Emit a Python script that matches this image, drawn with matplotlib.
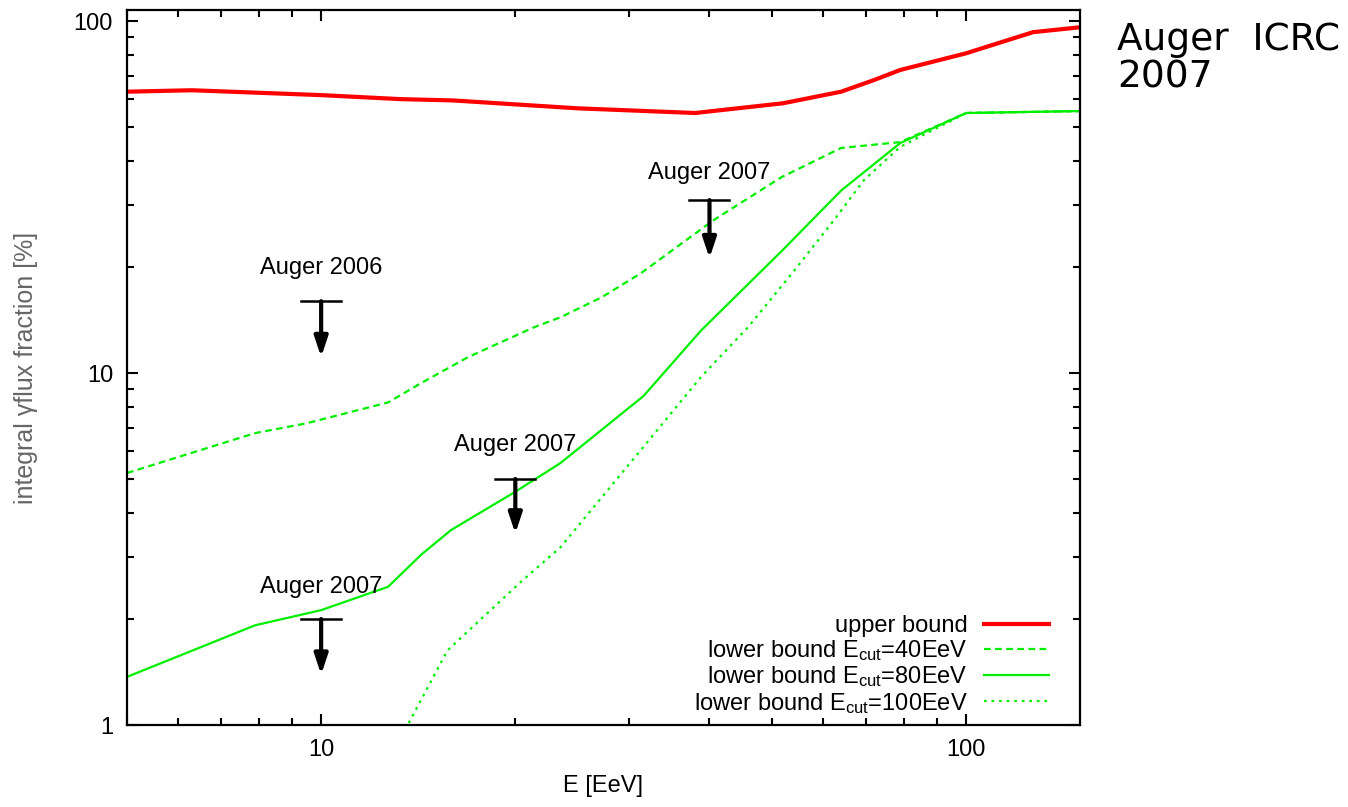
import matplotlib
matplotlib.use("Agg")
import matplotlib.pyplot as plt
from matplotlib.ticker import FixedLocator, NullFormatter, FixedFormatter

plt.rcParams['font.family'] = ['Liberation Sans', 'DejaVu Sans']
plt.rcParams['mathtext.fontset'] = 'custom'
plt.rcParams['mathtext.rm'] = 'Liberation Sans'
plt.rcParams['mathtext.it'] = 'Liberation Sans'

# upper bound (red)
e_upper = [5, 6.3, 10, 13.3, 16, 25, 38, 52, 64, 72, 79, 100, 127, 150]
f_upper = [63, 63.6, 61.6, 60, 59.5, 56.5, 54.8, 58.4, 63, 68, 72.6, 81, 93, 96]

# lower bound, E_cut = 40 EeV
e_40 = [5, 7.9, 9.5, 12.7, 14.3, 16.9, 21.4, 23.5, 27.2, 31.3, 40.6, 51.7, 64, 79, 100, 150]
f_40 = [5.2, 6.75, 7.2, 8.25, 9.37, 11.1, 13.5, 14.4, 16.4, 19.2, 27.2, 36, 43.6, 45.3, 54.8, 55.5]

# lower bound, E_cut = 80 EeV
e_80 = [5, 7.9, 10, 12.7, 14.3, 15.9, 20, 23.5, 31.6, 38.8, 52, 64, 79, 100, 150]
f_80 = [1.37, 1.92, 2.12, 2.47, 3.05, 3.58, 4.6, 5.55, 8.6, 13.2, 22.4, 33, 45, 54.8, 55.5]

# lower bound, E_cut = 100 EeV
e_100 = [13.5, 15.7, 20.4, 23.5, 31.3, 38.8, 45.9, 54.2, 62.4, 69.4, 79, 100, 150]
f_100 = [0.97, 1.63, 2.55, 3.2, 6.04, 9.74, 13.5, 19.6, 27.2, 35.3, 43.9, 54.8, 55.5]

# Auger upper limits
lim_e = [10, 10, 20, 40]
lim_f = [16, 2, 5, 31]
lim_tip = [11.1, 1.39, 3.5, 21.2]
lim_text = ["Auger 2006", "Auger 2007", "Auger 2007", "Auger 2007"]
lim_text_y = [19.9, 2.47, 6.24, 37]

fig = plt.figure(figsize=(13.48, 8.07), dpi=100)
ax = fig.add_axes([0.0942, 0.1016, 0.7068, 0.886])

green = '#00ee00'
ax.plot(e_upper, f_upper, color='#ff0000', lw=3.0, label='upper bound')
ax.plot(e_40, f_40, color=green, lw=1.6, dashes=(3, 2), label=r'lower bound E$_{\rm cut}$=40EeV')
ax.plot(e_80, f_80, color=green, lw=1.6, label=r'lower bound E$_{\rm cut}$=80EeV')
ax.plot(e_100, f_100, color=green, lw=1.6, dashes=(1.2, 2.2), label=r'lower bound E$_{\rm cut}$=100EeV')

for e, f, tip, txt, ty in zip(lim_e, lim_f, lim_tip, lim_text, lim_text_y):
    ax.plot([e / 1.074, e * 1.074], [f, f], color='k', lw=1.8)
    ax.annotate('', xy=(e, tip), xytext=(e, f),
                arrowprops=dict(arrowstyle='-|>,head_length=0.6,head_width=0.2', color='k',
                                lw=3, mutation_scale=20, shrinkA=0, shrinkB=0))
    ax.text(e, ty, txt, ha='center', va='center', fontsize=17)

ax.set_xscale('log')
ax.set_yscale('log')
ax.set_xlim(5, 150)
ax.set_ylim(1, 107.5)

ax.xaxis.set_major_locator(FixedLocator([10, 100]))
ax.xaxis.set_major_formatter(FixedFormatter(['10', '100']))
ax.xaxis.set_minor_locator(FixedLocator([5, 6, 7, 8, 9, 20, 30, 40, 50, 60, 70, 80, 90]))
ax.xaxis.set_minor_formatter(NullFormatter())
ax.yaxis.set_major_locator(FixedLocator([1, 10, 100]))
ax.yaxis.set_major_formatter(FixedFormatter(['1', '10', '100']))
ax.yaxis.set_minor_locator(FixedLocator([2, 3, 4, 5, 6, 7, 8, 9, 20, 30, 40, 50, 60, 70, 80, 90]))
ax.yaxis.set_minor_formatter(NullFormatter())

ax.tick_params(which='both', direction='in', top=True, right=True, width=1.5, labelsize=17)
ax.tick_params(which='major', length=8, pad=10)
ax.tick_params(which='minor', length=5)
for s in ax.spines.values():
    s.set_linewidth(1.6)

ax.set_xlabel('E [EeV]', fontsize=17, labelpad=10)
ax.set_ylabel('integral \u03b3flux fraction [%]', fontsize=18, color='#666666')
ax.yaxis.set_label_coords(-0.093, 0.5)

ax.legend(loc='lower right', frameon=False, fontsize=17, markerfirst=False,
          alignment='right', handlelength=2.75, handletextpad=0.7, labelspacing=0.05,
          borderaxespad=0.0, bbox_to_anchor=(0.978, 0.0))

fig.text(0.829, 0.973, 'Auger  ICRC\n2007', fontsize=27, family='DejaVu Sans',
         ha='left', va='top', linespacing=1.07)

fig.savefig('out.png', dpi=100)
